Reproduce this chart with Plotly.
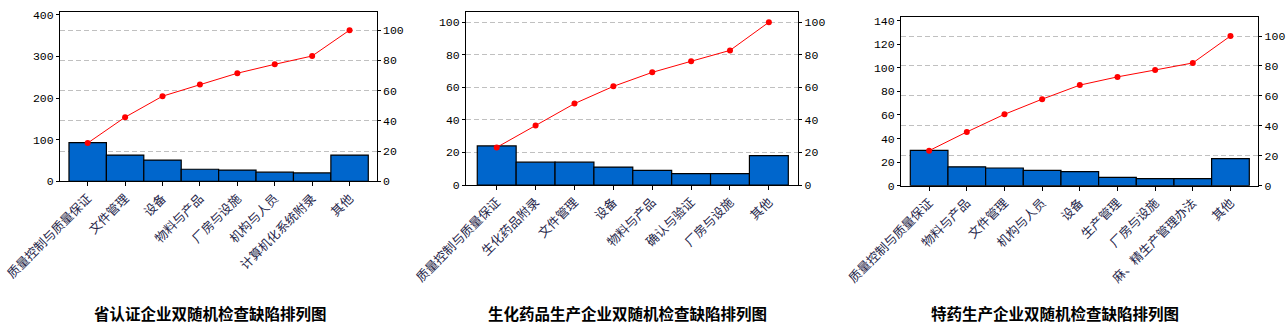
import plotly.graph_objects as go

# ---- data: defect counts per category and cumulative share (%) ----
titles = [
    "省认证企业双随机检查缺陷排列图",
    "生化药品生产企业双随机检查缺陷排列图",
    "特药生产企业双随机检查缺陷排列图",
]

cats_1 = ["质量控制与质量保证", "文件管理", "设备", "物料与产品",
          "厂房与设施", "机构与人员", "计算机化系统附录", "其他"]
counts_1 = [93, 63, 51, 29, 27, 22, 20, 63]
cum_pct_1 = [25.3, 42.4, 56.3, 64.1, 71.5, 77.4, 82.9, 100.0]

cats_2 = ["质量控制与质量保证", "生化药品附录", "文件管理", "设备",
          "物料与产品", "确认与验证", "厂房与设施", "其他"]
counts_2 = [24, 14, 14, 11, 9, 7, 7, 18]
cum_pct_2 = [23.1, 36.5, 50.0, 60.6, 69.2, 76.0, 82.7, 100.0]

cats_3 = ["质量控制与质量保证", "物料与产品", "文件管理", "机构与人员", "设备",
          "生产管理", "厂房与设施", "麻、精生产管理办法", "其他"]
counts_3 = [30, 16, 15, 13, 12, 7, 6, 6, 23]
cum_pct_3 = [23.4, 35.9, 47.7, 57.8, 67.2, 72.7, 77.3, 82.0, 100.0]

left_ticks = [[0, 100, 200, 300, 400], [0, 20, 40, 60, 80, 100],
              [0, 20, 40, 60, 80, 100, 120, 140]]
right_ticks = [0, 20, 40, 60, 80, 100]

# ---- layout geometry for the three panels ----
W, H = 1288, 334
panels = [
    dict(cats=cats_1, counts=counts_1, cum=cum_pct_1,
         px=(60, 376.7), py=(12.3, 181.3), xr=(-0.74, 7.725),
         yl=406, yr=111.8, title_x=210),
    dict(cats=cats_2, counts=counts_2, cum=cum_pct_2,
         px=(466, 798.3), py=(12.3, 185.0), xr=(-0.79, 7.757),
         yl=106.1, yr=106.1, title_x=627),
    dict(cats=cats_3, counts=counts_3, cum=cum_pct_3,
         px=(901, 1258.3), py=(17.3, 185.7), xr=(-0.747, 8.739),
         yl=142.9, yr=112.5, title_x=1055),
]

BAR_COLOR = "#0066CC"
LINE_COLOR = "#FF0000"
NUM_FONT = dict(family="Liberation Mono, DejaVu Sans Mono, monospace", size=11.5, color="#000000")
CAT_FONT = dict(family="Noto Sans CJK SC, sans-serif", size=12.5, color="#26264a")
TITLE_FONT = dict(family="Noto Sans CJK SC, sans-serif", size=15.5, color="#000000")

fig = go.Figure()
layout = dict(
    width=W, height=H,
    margin=dict(l=0, r=0, t=0, b=0),
    paper_bgcolor="white", plot_bgcolor="white",
    showlegend=False, template="none",
    annotations=[],
)

for i, p in enumerate(panels):
    n = i + 1
    xname = "x" if n == 1 else f"x{n}"
    yl_idx, yr_idx = 2 * n - 1, 2 * n
    yl_name = "y" if yl_idx == 1 else f"y{yl_idx}"
    yr_name = f"y{yr_idx}"
    idx = list(range(len(p["cats"])))

    fig.add_trace(go.Bar(
        x=idx, y=p["counts"], width=1.0,
        marker=dict(color=BAR_COLOR, line=dict(color="#000000", width=1.2)),
        xaxis=xname, yaxis=yl_name, hoverinfo="skip",
    ))
    fig.add_trace(go.Scatter(
        x=idx, y=p["cum"], mode="lines+markers",
        line=dict(color=LINE_COLOR, width=1),
        marker=dict(color=LINE_COLOR, size=6),
        xaxis=xname, yaxis=yr_name, hoverinfo="skip",
    ))

    x0, x1 = p["px"]
    ytop, ybot = p["py"]
    xdom = [x0 / W, x1 / W]
    ydom = [1 - ybot / H, 1 - ytop / H]

    layout["xaxis" if n == 1 else f"xaxis{n}"] = dict(
        domain=xdom, anchor=yl_name, range=list(p["xr"]),
        tickmode="array", tickvals=idx, ticktext=p["cats"], tickangle=-45,
        tickfont=CAT_FONT, ticks="outside", ticklen=4, tickcolor="#000000",
        showline=True, linecolor="#000000", linewidth=1, mirror=True,
        showgrid=False, zeroline=False, automargin=False, fixedrange=True,
    )
    layout["yaxis" if yl_idx == 1 else f"yaxis{yl_idx}"] = dict(
        domain=ydom, anchor=xname, range=[0, p["yl"]],
        tickmode="array", tickvals=left_ticks[i],
        tickfont=NUM_FONT, ticks="outside", ticklen=3, tickcolor="#000000",
        showline=True, linecolor="#000000", linewidth=1,
        showgrid=False, zeroline=False, automargin=False, fixedrange=True,
    )
    layout[f"yaxis{yr_idx}"] = dict(
        overlaying=yl_name, side="right", anchor=xname, range=[0, p["yr"]],
        tickmode="array", tickvals=right_ticks,
        tickfont=NUM_FONT, ticks="outside", ticklen=3, tickcolor="#000000",
        showline=True, linecolor="#000000", linewidth=1,
        showgrid=True, gridcolor="#C0C0C0", gridwidth=1, griddash="5px,3px",
        zeroline=False, automargin=False, fixedrange=True,
    )
    layout["annotations"].append(dict(
        text=f"<b>{titles[i]}</b>", xref="paper", yref="paper",
        x=p["title_x"] / W, y=1 - 313 / H, xanchor="center", yanchor="middle",
        showarrow=False, font=TITLE_FONT,
    ))

fig.update_layout(**layout)
fig.write_html("out.html")
